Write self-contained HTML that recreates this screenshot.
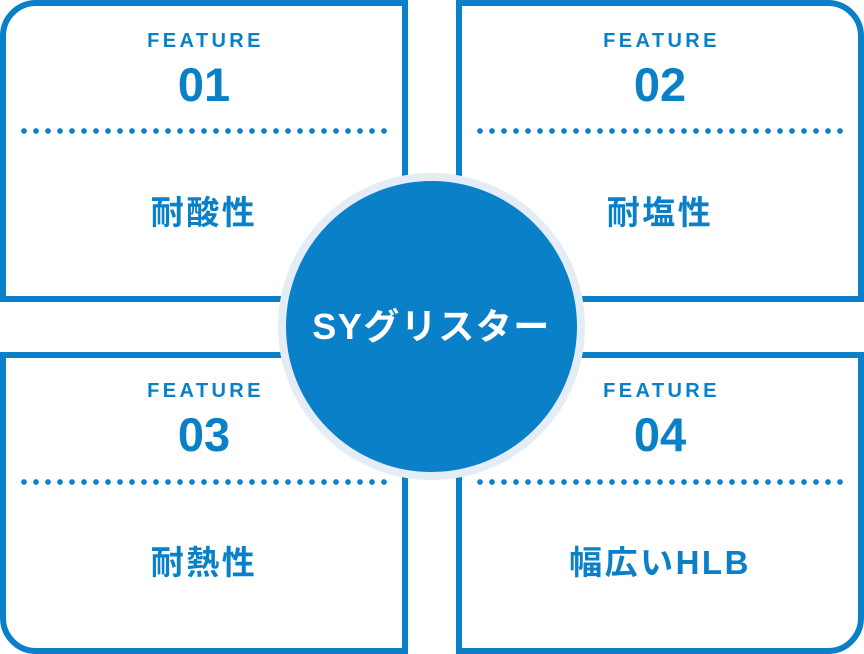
<!DOCTYPE html>
<html><head><meta charset="utf-8"><style>
body{margin:0;width:864px;height:654px;background:#fff;position:relative;overflow:hidden;font-family:"Liberation Sans","Noto Sans CJK JP",sans-serif;color:#0a80c8}
.b{position:absolute;width:396px;height:290px;border:6px solid #0a80c8;background:#fff}
.f{position:absolute;left:0;width:408px;text-align:center;font-weight:bold}
.fe{font-size:20px;letter-spacing:3.4px;line-height:20px;padding-left:3px;box-sizing:border-box}
.n{font-size:47px;line-height:46px}
.d{position:absolute;height:6px;background:radial-gradient(circle,#0a80c8 2.6px,transparent 3px) 0 0/12px 6px repeat-x}
.j{font-size:33px;line-height:34px;letter-spacing:2.5px}
.c{position:absolute;left:278px;top:173px;width:291px;height:291px;border-radius:50%;background:#0a80c8;border:8px solid #e4edf5;color:#fff;font-weight:bold;font-size:36px;text-align:center;line-height:291px;letter-spacing:1.5px}
</style></head><body>
<div class="b" style="left:0;top:0;border-top-left-radius:36px"></div>
<div class="b" style="left:456px;top:0;border-top-right-radius:36px"></div>
<div class="b" style="left:0;top:352px;border-bottom-left-radius:36px"></div>
<div class="b" style="left:456px;top:352px;border-bottom-right-radius:36px"></div>

<div style="position:absolute;left:0;top:0">
<div class="f fe" style="top:31px">FEATURE</div>
<div class="f n" style="top:62px">01</div>
<div class="d" style="left:18px;top:128px;width:372px"></div>
<div class="f j" style="top:196px">耐酸性</div>
</div>
<div style="position:absolute;left:456px;top:0">
<div class="f fe" style="top:31px">FEATURE</div>
<div class="f n" style="top:62px">02</div>
<div class="d" style="left:18px;top:128px;width:372px"></div>
<div class="f j" style="top:196px">耐塩性</div>
</div>
<div style="position:absolute;left:0;top:350px">
<div class="f fe" style="top:31px">FEATURE</div>
<div class="f n" style="top:62px">03</div>
<div class="d" style="left:18px;top:129px;width:372px"></div>
<div class="f j" style="top:196px">耐熱性</div>
</div>
<div style="position:absolute;left:456px;top:350px">
<div class="f fe" style="top:31px">FEATURE</div>
<div class="f n" style="top:62px">04</div>
<div class="d" style="left:18px;top:129px;width:372px"></div>
<div class="f j" style="top:196px">幅広いHLB</div>
</div>

<div class="c">SYグリスター</div>
</body></html>
